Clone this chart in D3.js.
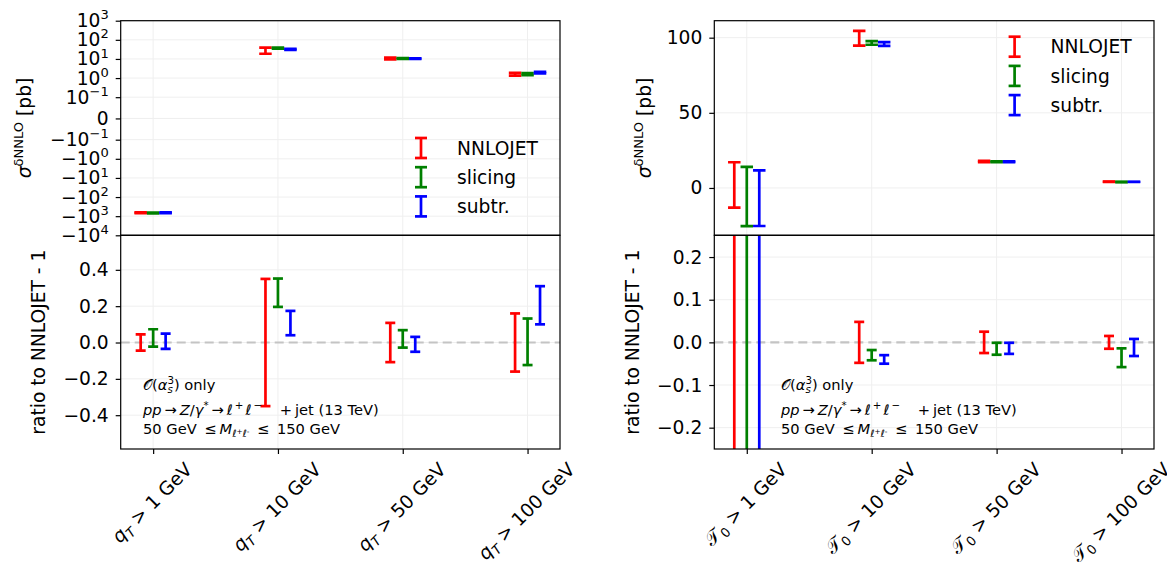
<!DOCTYPE html>
<html>
<head>
<meta charset="utf-8">
<script src="https://cdn.jsdelivr.net/npm/d3@7"></script>
<style>
  body { margin: 0; background: #fff; }
  svg { display: block; font-family: 'DejaVu Sans', sans-serif; }
</style>
</head>
<body>
<svg id="chart" width="1167" height="563"></svg>
<script>
// Серии и общие подписи
const series = ['NNLOJET', 'slicing', 'subtr.']
const seriesColors = ['#ff0000', '#008000', '#0000ff']
const seriesShift = [-0.1, 0, 0.1]
const cuts = ['1', '10', '50', '100']

// q_T: сечение [pb] и погрешность, строки = NNLOJET, slicing, subtr.
const qtValues = [[-660, 29, 10.5, 1.6], [-676, 37, 10.7, 1.6], [-665, 32, 10.4, 1.93]]
const qtErrors = [[30, 10.3, 1.1, 0.26], [32, 2.3, 0.5, 0.2], [28, 1.9, 0.43, 0.17]]
// q_T: отношение к NNLOJET - 1
const qtRatio = [[0, 0, 0, 0], [0.025, 0.274, 0.02, 0.004], [0.007, 0.107, -0.01, 0.205]]
const qtRatioErr = [[0.045, 0.35, 0.108, 0.16], [0.048, 0.078, 0.048, 0.128], [0.042, 0.067, 0.041, 0.105]]

// tau_0: сечение [pb] и погрешность
const tauValues = [[2, 99.6, 17.6, 4.1], [-5.7, 96.5, 17.4, 4.0], [-6.8, 95.8, 17.4, 4.05]]
const tauErrors = [[15.1, 4.9, 0.44, 0.06], [19.7, 1.2, 0.26, 0.09], [18.5, 1.3, 0.23, 0.08]]
// tau_0: отношение к NNLOJET - 1
const tauRatio = [[0, 0, 0, 0], [-3.85, -0.03, -0.015, -0.036], [-4.4, -0.04, -0.014, -0.012]]
const tauRatioErr = [[7.5, 0.048, 0.025, 0.015], [9.85, 0.012, 0.014, 0.022], [9.25, 0.01, 0.013, 0.02]]

// Деления осей
const symlogTicks = [1e3, 1e2, 1e1, 1, 0.1, 0, -0.1, -1, -1e1, -1e2, -1e3, -1e4]
const tauTopTicks = [0, 50, 100]
const qtRatioTicks = [0.4, 0.2, 0, -0.2, -0.4]
const tauRatioTicks = [0.2, 0.1, 0, -0.1, -0.2]

const config = {
  top: 20.7,
  mid: 235.3,
  bottom: 449,
  xDomain: [-0.26, 3.26],
  font: 18.67,
  small: 14.67,
  lw: 2.7,
  grid: '#efefef'
}

const svg = d3.select('#chart')
const defs = svg.append('defs')

// symlog как в matplotlib: linthresh 0.1, linscale 1
const linthresh = 0.1
const linscale = 1 / (1 - 1 / 10)
function symlog(v) {
  const a = Math.abs(v)
  if (a <= linthresh) return v / linthresh * linscale
  return Math.sign(v) * (linscale + Math.log10(a / linthresh))
}

// Текст с индексами: части {t, it, f, sh, dx}
function rich(text, parts, size) {
  let cur = 0
  parts.forEach(p => {
    const ts = text.append('tspan').text(p.t).attr('font-size', size * (p.f || 1))
    if (p.it) ts.attr('font-style', 'italic')
    const sh = (p.sh || 0) * size
    if (sh !== cur) { ts.attr('dy', sh - cur); cur = sh }
    if (p.dx) ts.attr('dx', p.dx * size)
  })
  return text
}

function symTickParts(v) {
  if (v === 0) return [{ t: '0' }]
  const e = Math.round(Math.log10(Math.abs(v)))
  return [{ t: (v < 0 ? '−' : '') + '10' }, { t: e < 0 ? '−' + (-e) : String(e), f: 0.7, sh: -0.42 }]
}

function errorBar(g, cx, yLo, yHi, cap, color) {
  g.append('line').attr('x1', cx).attr('x2', cx).attr('y1', yLo).attr('y2', yHi)
    .attr('stroke', color).attr('stroke-width', config.lw)
  ;[yLo, yHi].forEach(y => {
    g.append('line').attr('x1', cx - cap / 2).attr('x2', cx + cap / 2).attr('y1', y).attr('y2', y)
      .attr('stroke', color).attr('stroke-width', config.lw)
  })
}

function styleAxis(g) {
  g.select('.domain').remove()
  g.attr('font-family', null).attr('font-size', config.font)
  g.selectAll('.tick line').attr('stroke', '#000').attr('stroke-width', 1.2)
  g.selectAll('.tick text').attr('fill', '#000')
}

function drawPanel(p) {
  const { x0, x1, id } = p
  const { top, mid, bottom } = config
  const x = d3.scaleLinear().domain(config.xDomain).range([x0, x1])

  // Клипы
  ;[['top', top, mid], ['rat', mid, bottom]].forEach(([k, a, b]) => {
    defs.append('clipPath').attr('id', `clip-${id}-${k}`)
      .append('rect').attr('x', x0).attr('y', a).attr('width', x1 - x0).attr('height', b - a)
  })

  // Сетка
  const grid = svg.append('g').attr('stroke', config.grid).attr('stroke-width', 1)
  d3.range(4).forEach(i => {
    grid.append('line').attr('x1', x(i)).attr('x2', x(i)).attr('y1', top).attr('y2', bottom)
  })
  p.topTicks.forEach(v => {
    grid.append('line').attr('x1', x0).attr('x2', x1).attr('y1', p.yTop(v)).attr('y2', p.yTop(v))
  })
  p.ratioTicks.forEach(v => {
    grid.append('line').attr('x1', x0).attr('x2', x1).attr('y1', p.yRat(v)).attr('y2', p.yRat(v))
  })

  // Нулевая линия
  svg.append('line')
    .attr('x1', x0).attr('x2', x1).attr('y1', p.yRat(0)).attr('y2', p.yRat(0))
    .attr('stroke', '#c4c4c4').attr('stroke-width', 2.2).attr('stroke-dasharray', '9,5')

  // Верхняя панель: сечения
  const gTop = svg.append('g').attr('clip-path', `url(#clip-${id}-top)`)
  series.forEach((s, si) => {
    cuts.forEach((c, ci) => {
      const v = p.values[si][ci], e = p.errors[si][ci]
      errorBar(gTop, x(ci + seriesShift[si]), p.yTop(v - e), p.yTop(v + e), 12.5, seriesColors[si])
    })
  })

  // Нижняя панель: отношения
  const gRat = svg.append('g').attr('clip-path', `url(#clip-${id}-rat)`)
  series.forEach((s, si) => {
    cuts.forEach((c, ci) => {
      const v = p.ratio[si][ci], e = p.ratioErr[si][ci]
      errorBar(gRat, x(ci + seriesShift[si]), p.yRat(v - e), p.yRat(v + e), 10, seriesColors[si])
    })
  })

  // Рамки
  ;[[top, mid], [mid, bottom]].forEach(([a, b]) => {
    svg.append('rect').attr('x', x0).attr('y', a).attr('width', x1 - x0).attr('height', b - a)
      .attr('fill', 'none').attr('stroke', '#000').attr('stroke-width', 1.2)
  })

  // Ось Y сверху
  const axTop = svg.append('g').attr('transform', `translate(${x0},0)`)
    .call(d3.axisLeft(p.yTopScale).tickValues(p.topTicks.map(p.topMap)).tickSize(5).tickPadding(7).tickFormat(''))
  styleAxis(axTop)
  axTop.selectAll('.tick text').each(function (d, i) {
    rich(d3.select(this), p.topLabel(p.topTicks[i]), config.font)
  })

  // Ось Y снизу
  const axRat = svg.append('g').attr('transform', `translate(${x0},0)`)
    .call(d3.axisLeft(p.yRat).tickValues(p.ratioTicks).tickSize(5).tickPadding(7).tickFormat(d3.format('.1f')))
  styleAxis(axRat)

  // Ось X
  const axX = svg.append('g').attr('transform', `translate(0,${bottom})`)
    .call(d3.axisBottom(x).tickValues(d3.range(4)).tickSize(5).tickFormat(''))
  styleAxis(axX)

  // Повёрнутые подписи X
  cuts.forEach((c, ci) => {
    const g = svg.append('g')
    const t = rich(g.append('text').attr('text-anchor', 'middle'), p.xParts(c), config.font)
    const bb = t.node().getBBox()
    const h = (bb.width + bb.height) * Math.SQRT1_2
    g.attr('transform', `translate(${x(ci)},${bottom + 9.5 + h / 2}) rotate(-45)`)
    t.attr('transform', `translate(${-(bb.x + bb.width / 2)},${-(bb.y + bb.height / 2)})`)
  })

  // Подписи осей
  rich(svg.append('text').attr('text-anchor', 'middle')
    .attr('transform', `translate(${p.sigmaX},${(top + mid) / 2}) rotate(-90)`),
    [{ t: 'σ', it: 1 }, { t: 'δNNLO', f: 0.7, sh: -0.42 }, { t: ' [pb]', sh: 0 }], config.font)
  svg.append('text').attr('text-anchor', 'middle')
    .attr('transform', `translate(${p.ratioX},${(mid + bottom) / 2}) rotate(-90)`)
    .attr('font-size', config.font)
    .text('ratio to NNLOJET - 1')

  // Легенда
  series.forEach((s, si) => {
    const cy = p.legendY + si * 29.2
    errorBar(svg.append('g'), p.legendX, cy - 10, cy + 10, 12, seriesColors[si])
    svg.append('text').attr('x', p.legendX + 36).attr('y', cy).attr('dy', '0.36em')
      .attr('font-size', config.font).text(s)
  })

  // Аннотация
  const ax = p.noteX
  const notes = [
    [390, [{ t: '𝒪' }, { t: '(' }, { t: 'α', it: 1 }, { t: 's', it: 1, f: 0.7, sh: 0.22 },
      { t: '3', f: 0.7, sh: -0.42, dx: -0.36 }, { t: ') only', sh: 0 }]],
    [415, [{ t: 'pp', it: 1 }, { t: '\u2009→\u2009' }, { t: 'Z', it: 1 }, { t: '/' }, { t: 'γ', it: 1 },
      { t: '*', f: 0.7, sh: -0.42 }, { t: '\u2009→\u2009', sh: 0 }, { t: 'ℓ', it: 1 }, { t: '\u2009+\u2009', f: 0.7, sh: -0.42 },
      { t: 'ℓ', it: 1, sh: 0 }, { t: '\u2009−', f: 0.7, sh: -0.42 }, { t: '\u2003\u2009+\u2009jet (13 TeV)', sh: 0 }]],
    [433.5, [{ t: '50 GeV \u2009≤\u2009' }, { t: 'M', it: 1 }, { t: 'ℓ', it: 1, f: 0.7, sh: 0.22 },
      { t: '+', f: 0.5, sh: 0.05 }, { t: 'ℓ', it: 1, f: 0.7, sh: 0.22 }, { t: '-', f: 0.5, sh: 0.05 },
      { t: ' \u2009≤\u2009 150 GeV', sh: 0 }]]
  ]
  notes.forEach(([y, parts]) => {
    rich(svg.append('text').attr('x', ax).attr('y', y), parts, config.small)
  })
}

// Левая панель: q_T, symlog сверху
const qtTopScale = d3.scaleLinear().domain([symlog(-1e4), symlog(1e3)]).range([config.mid, config.top])
drawPanel({
  id: 'qt',
  x0: 120.7, x1: 560,
  values: qtValues, errors: qtErrors,
  ratio: qtRatio, ratioErr: qtRatioErr,
  yTopScale: qtTopScale,
  topMap: symlog,
  yTop: v => qtTopScale(symlog(v)),
  topTicks: symlogTicks,
  topLabel: symTickParts,
  yRat: d3.scaleLinear().domain([-0.586, 0.59]).range([config.bottom, config.mid]),
  ratioTicks: qtRatioTicks,
  xParts: c => [{ t: 'q', it: 1 }, { t: 'T', it: 1, f: 0.7, sh: 0.22 }, { t: ' > ' + c + ' GeV', sh: 0 }],
  sigmaX: 30.5, ratioX: 45,
  legendX: 421, legendY: 148,
  noteX: 143
})

// Правая панель: tau_0, линейная шкала сверху
const tauTopScale = d3.scaleLinear().domain([-31.5, 111.3]).range([config.mid, config.top])
drawPanel({
  id: 'tau',
  x0: 714.3, x1: 1154,
  values: tauValues, errors: tauErrors,
  ratio: tauRatio, ratioErr: tauRatioErr,
  yTopScale: tauTopScale,
  topMap: v => v,
  yTop: tauTopScale,
  topTicks: tauTopTicks,
  topLabel: v => [{ t: String(v) }],
  yRat: d3.scaleLinear().domain([-0.25, 0.251]).range([config.bottom, config.mid]),
  ratioTicks: tauRatioTicks,
  xParts: c => [{ t: '𝒯' }, { t: '0', f: 0.7, sh: 0.22 }, { t: ' > ' + c + ' GeV', sh: 0 }],
  sigmaX: 650.5, ratioX: 638.6,
  legendX: 1014.6, legendY: 46.7,
  noteX: 781
})
</script>
</body>
</html>
